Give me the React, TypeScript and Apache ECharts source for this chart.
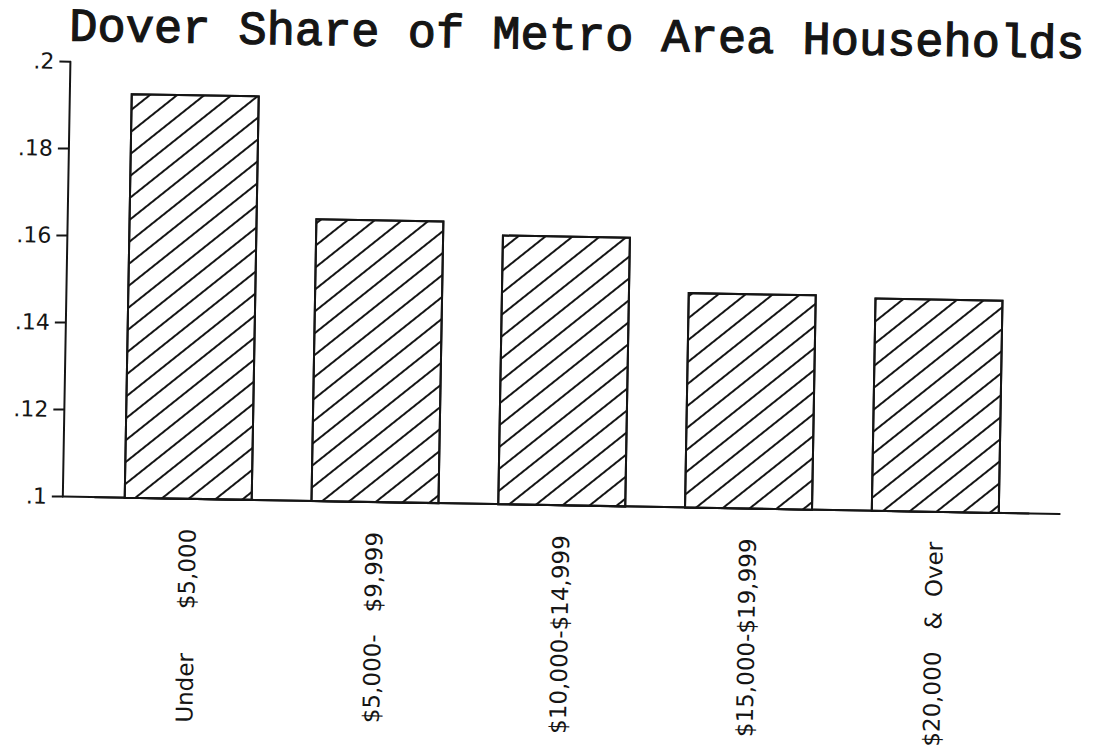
import React, { useEffect, useRef } from "react";
import * as echarts from "echarts";

const NB = "\u00A0";
const categories = [
  `Under${NB.repeat(6)}$5,000`,
  `$5,000-${NB.repeat(3)}$9,999`,
  "$10,000-$14,999",
  "$15,000-$19,999",
  `$20,000${NB.repeat(3)}&${NB.repeat(2)}Over`,
];
const shares = [0.193, 0.165, 0.162, 0.1495, 0.149];
const yTicks = { min: 0.1, max: 0.2, interval: 0.02 };
const titleText = "Dover Share of Metro Area Households";

const INK = "#151515";

export default function App() {
  const ref = useRef<HTMLDivElement>(null);
  useEffect(() => {
    if (!ref.current) return;
    const chart = echarts.init(ref.current, undefined, { renderer: "svg" });
    chart.setOption({
      animation: false,
      backgroundColor: "#ffffff",
      title: {
        text: titleText,
        left: 566,
        textAlign: "center",
        top: 8,
        textStyle: {
          fontFamily: "Liberation Mono",
          fontWeight: "normal",
          fontSize: 47,
          color: INK,
          textBorderColor: INK,
          textBorderWidth: 1.2,
        },
      },
      grid: [
        { left: 97, right: 63, top: 70, bottom: 248 },
        { left: 65, right: 32, top: 70, bottom: 248 },
      ],
      xAxis: [
        {
          type: "category",
          gridIndex: 0,
          data: categories,
          axisLine: { show: true, lineStyle: { color: INK, width: 2 } },
          axisTick: { alignWithLabel: true, length: 12, lineStyle: { color: INK, width: 2 } },
          axisLabel: {
            interval: 0,
            rotate: 90,
            margin: 30,
            fontFamily: "DejaVu Sans",
            fontSize: 23,
            color: INK,
          },
          splitLine: { show: false },
        },
        {
          type: "value",
          gridIndex: 1,
          min: 0,
          max: 1,
          axisLine: { show: true, lineStyle: { color: INK, width: 2 } },
          axisTick: { show: false },
          axisLabel: { show: false },
          splitLine: { show: false },
        },
      ],
      yAxis: [
        {
          type: "value",
          gridIndex: 0,
          min: yTicks.min,
          max: yTicks.max,
          interval: yTicks.interval,
          offset: 32,
          axisLine: { show: true, lineStyle: { color: INK, width: 2 } },
          axisTick: { show: true, length: 11, lineStyle: { color: INK, width: 2 } },
          axisLabel: {
            margin: 16,
            fontFamily: "DejaVu Sans",
            fontSize: 22,
            color: INK,
            formatter: (v: number) => String(+v.toFixed(2)).replace(/^0/, ""),
          },
          splitLine: { show: false },
        },
        {
          type: "value",
          gridIndex: 1,
          show: false,
          min: 0,
          max: 1,
        },
      ],
      series: [
        {
          type: "bar",
          xAxisIndex: 0,
          yAxisIndex: 0,
          data: shares,
          barWidth: 129,
          itemStyle: {
            color: "#ffffff",
            borderColor: INK,
            borderWidth: 2,
            decal: {
              symbol: "rect",
              symbolSize: 1,
              color: INK,
              dashArrayX: [1, 0],
              dashArrayY: [2, 14.5],
              rotation: -0.69,
            },
          },
        },
      ],
    });
    return () => chart.dispose();
  }, []);
  return (
    <div
      ref={ref}
      style={{
        position: "absolute",
        left: 0,
        top: 0,
        width: 1094,
        height: 753,
        transform: "rotate(1deg)",
        transformOrigin: "547px 376px",
      }}
    />
  );
}
